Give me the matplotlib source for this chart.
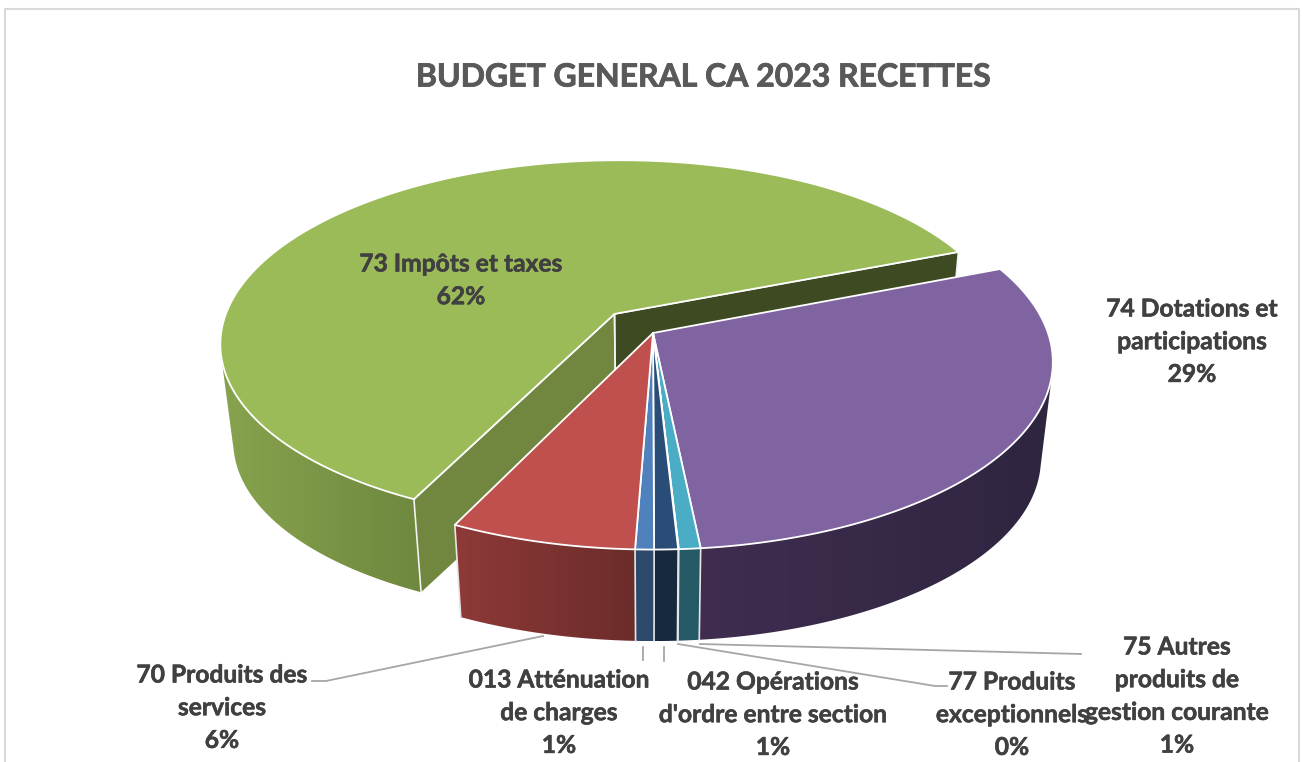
import numpy as np
import matplotlib.pyplot as plt
import matplotlib.patheffects as pe
from matplotlib.colors import LinearSegmentedColormap
from matplotlib.patches import Polygon, Rectangle

plt.rcParams['font.family'] = ['Lato', 'DejaVu Sans']

# Chart data (clockwise from the start of the purple slice)
codes = ['74', '75', '77', '042', '013', '70', '73']
values = [29.4, 0.75, 0.02, 0.82, 0.65, 6.49, 61.87]
explode = [0, 0, 0, 0, 0, 0, 0.145]
top_colors = ['#8064a2', '#4bacc6', '#1f4e79', '#2a4d78', '#4f81bd', '#c0504d', '#9bbb59']
side_left = ['#402d50', '#255a66', '#17293f', '#17293f', '#2d4a6b', '#8e3a38', '#88a34e']
side_right = ['#2e2540', '#255a66', '#17293f', '#17293f', '#2d4a6b', '#6b2c2a', '#6e883e']

title = 'BUDGET GENERAL CA 2023 RECETTES'
label_lines = [
    ['74 Dotations et', 'participations', '29%'],
    ['75 Autres', 'produits de', 'gestion courante', '1%'],
    ['77 Produits', 'exceptionnels', '0%'],
    ['042 Opérations', "d'ordre entre section", '1%'],
    ['013 Atténuation', 'de charges', '1%'],
    ['70 Produits des', 'services', '6%'],
    ['73 Impôts et taxes', '62%'],
]
label_x = [1192, 1177, 1012, 773, 559, 222, 461]
label_y = [309, 647, 682, 682, 680, 675, 264]
leaders = [
    [(700, 644), (1081, 654)],
    [(678, 644), (935, 686), (947, 686)],
    [(664, 647), (664, 661)],
    [(643, 647), (643, 660)],
    [(543, 636), (326, 681), (312, 681)],
]

# Pie geometry, in pixels
start_angle = -21.7
cx, cy = 653, 333
rx, ry = 395, 183
persp = 0.155
depth = 98
bottom_scale = 0.97


def project(u, v, bottom=False):
    s = 1 / (1 - persp * np.asarray(v))
    x = rx * np.asarray(u) * s
    y = ry * np.asarray(v) * s
    if bottom:
        return cx + x * bottom_scale, cy + y * bottom_scale + depth
    return cx + x, cy + y


def slice_rim(a0, a1, off):
    t = np.radians(np.linspace(a0, a1, max(int(abs(a1 - a0) * 2), 2) + 1))
    return np.cos(t) + off[0], np.sin(t) + off[1]


def draw_side(ax, i, a0, a1, off, z):
    u, v = slice_rim(a0, a1, off)
    x0, y0 = project(u, v)
    x1, y1 = project(u, v, bottom=True)
    # keep the part of the rim that faces the viewer
    keep = []
    for k in range(len(u) - 1):
        xs = np.array([x0[k], x0[k + 1], x1[k + 1], x1[k]])
        ys = np.array([y0[k], y0[k + 1], y1[k + 1], y1[k]])
        if np.sum(xs * np.roll(ys, -1) - np.roll(xs, -1) * ys) < 0:
            keep += [k, k + 1]
    if not keep:
        return
    idx = np.unique(keep)
    outline = np.vstack([np.column_stack([x0[idx], y0[idx]]),
                         np.column_stack([x1[idx], y1[idx]])[::-1]])
    patch = Polygon(outline, closed=True, facecolor='none', edgecolor='none', zorder=z)
    ax.add_patch(patch)
    cmap = LinearSegmentedColormap.from_list('side', [side_left[i], side_right[i]])
    xmin, xmax = outline[:, 0].min(), outline[:, 0].max()
    ymin, ymax = outline[:, 1].min(), outline[:, 1].max()
    img = ax.imshow(np.linspace(0, 1, 256).reshape(1, -1), cmap=cmap, aspect='auto',
                    extent=(xmin, xmax, ymax, ymin), zorder=z, interpolation='bilinear')
    img.set_clip_path(patch)


def draw_top(ax, i, a0, a1, off, z):
    u, v = slice_rim(a0, a1, off)
    x, y = project(u, v)
    ax0, ay0 = project(off[0], off[1])
    pts = np.vstack([[ax0, ay0], np.column_stack([x, y])])
    ax.add_patch(Polygon(pts, closed=True, facecolor=top_colors[i],
                         edgecolor='white', linewidth=1.3, joinstyle='round', zorder=z))


def draw_wall(ax, a, off, color, z):
    u, v = np.cos(np.radians(a)) + off[0], np.sin(np.radians(a)) + off[1]
    p = [project(off[0], off[1]), project(u, v),
         project(u, v, bottom=True), project(off[0], off[1], bottom=True)]
    ax.add_patch(Polygon(p, closed=True, facecolor=color, edgecolor='none', zorder=z))
    for q in (p[:2], p[1:3], [p[0], p[3]]):
        ax.plot(*zip(*q), color='#f2f2f2', lw=1.2, zorder=z + 0.1)


fig = plt.figure(figsize=(13.04, 7.62), dpi=100)
ax = fig.add_axes([0, 0, 1, 1])
ax.axis('off')

ax.add_patch(Rectangle((5, 9), 1294, 800, facecolor='white', edgecolor='#d9d9d9',
                       linewidth=1.5, zorder=0))

# Slice angles come from the values
sweep = np.array(values) / sum(values) * 360
edges = start_angle + np.concatenate([[0], np.cumsum(sweep)])
mid = np.radians((edges[:-1] + edges[1:]) / 2)
offsets = [(e * np.cos(m), e * np.sin(m)) for e, m in zip(explode, mid)]

# Exploded slice goes behind the others
for i, e in enumerate(explode):
    if e > 0:
        draw_side(ax, i, edges[i], edges[i + 1], offsets[i], 2)
        draw_wall(ax, edges[i], offsets[i], '#71873f', 3)
        draw_wall(ax, edges[i + 1], offsets[i], '#3e4a22', 3)
        draw_top(ax, i, edges[i], edges[i + 1], offsets[i], 4)

for i, e in enumerate(explode):
    if e == 0:
        draw_side(ax, i, edges[i], edges[i + 1], offsets[i], 5)
        a = np.radians(edges[i + 1])
        if np.sin(a) > 0.1:
            p, q = project(np.cos(a), np.sin(a)), project(np.cos(a), np.sin(a), bottom=True)
            ax.plot([p[0], q[0]], [p[1], q[1]], color='#e6e6e6', lw=1.2, zorder=5.5)
for i, e in enumerate(explode):
    if e == 0:
        draw_top(ax, i, edges[i], edges[i + 1], offsets[i], 6)

for line in leaders:
    ax.plot(*zip(*line), color='#a6a6a6', lw=1.3, zorder=7)

ax.text(704, 77, title, ha='center', va='center', fontsize=23,
        fontweight='bold', color='#595959',
        path_effects=[pe.withStroke(linewidth=0.6, foreground='#595959')])

line_pitch = 32.7
for lines, x, y in zip(label_lines, label_x, label_y):
    for n, s in enumerate(lines):
        ax.text(x, y + n * line_pitch, s, ha='center', va='center', fontsize=17.7,
                fontweight='bold', color='#404040', zorder=8,
                path_effects=[pe.withStroke(linewidth=0.4, foreground='#404040')])

ax.set_xlim(0, 1304)
ax.set_ylim(762, 0)
fig.savefig('out.png', dpi=100)
